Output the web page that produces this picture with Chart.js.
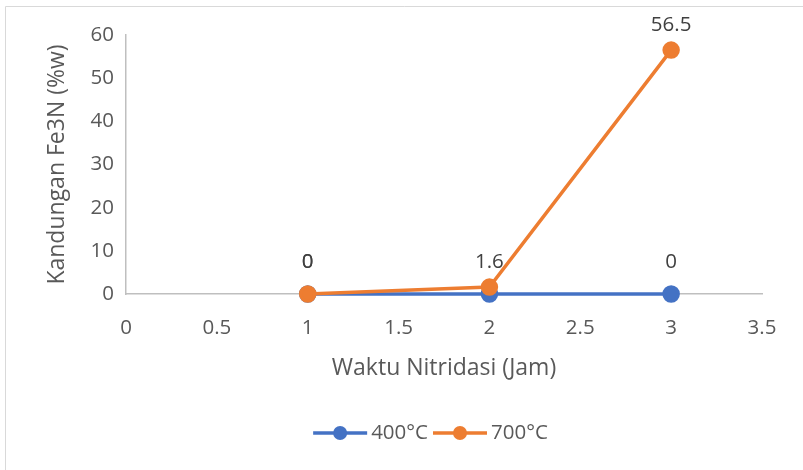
<!DOCTYPE html>
<html><head><meta charset="utf-8">
<script src="https://cdn.jsdelivr.net/npm/chart.js@4.4.1/dist/chart.umd.min.js"></script>
<style>html,body{margin:0;padding:0;background:#fff}#wrap{width:803px;height:470px;position:relative}</style>
</head><body><div id="wrap"><canvas id="c" width="803" height="470"></canvas></div>
<script>
const xValues = [1, 2, 3];
const series400 = [0, 0, 0];
const series700 = [0, 1.6, 56.5];
const labels400 = ['0', null, '0'];
const labels700 = ['0', '1.6', '56.5'];
const seriesNames = ['400°C', '700°C'];
const colors = ['#4472C4', '#ED7D31'];
const xTitle = 'Waktu Nitridasi (Jam)';
const yTitle = 'Kandungan Fe3N (%w)';
const textColor = '#595959';
const FONT = "'Open Sans', 'Noto Sans', sans-serif";

const labelPlugin = {
  id: 'valLabels',
  beforeDraw(chart){
    const ctx = chart.ctx;
    ctx.save();
    ctx.strokeStyle = '#D9D9D9'; ctx.lineWidth = 1;
    ctx.beginPath(); ctx.moveTo(5.5, 470); ctx.lineTo(5.5, 6.5); ctx.lineTo(803, 6.5); ctx.stroke();
    ctx.restore();
  },
  afterDatasetsDraw(chart){
    const ctx = chart.ctx;
    ctx.save();
    ctx.font = "20.5px " + FONT;
    ctx.fillStyle = '#404040';
    ctx.textAlign = 'center';
    ctx.textBaseline = 'middle';
    const sets = [[0, labels400, 32], [1, labels700, 25]];
    sets.forEach(([di, labs, off]) => {
      const meta = chart.getDatasetMeta(di);
      meta.data.forEach((pt, i) => {
        if (labs[i] == null) return;
        let o = off;
        if (di === 1 && i === 0) o = 32;
        ctx.fillText(labs[i], pt.x, pt.y - o);
      });
    });
    ctx.restore();
  },
  afterDraw(chart){
    const ctx = chart.ctx;
    ctx.save();
    ctx.font = "20.5px " + FONT;
    ctx.textBaseline = 'middle';
    ctx.textAlign = 'left';
    const iconW = 54, gap = 4, spacing = 5;
    const widths = seriesNames.map(n => iconW + gap + ctx.measureText(n).width);
    const total = widths.reduce((a,b)=>a+b,0) + spacing*(seriesNames.length-1);
    let x = 430.5 - total/2;
    const y = 433;
    seriesNames.forEach((n,i) => {
      ctx.strokeStyle = colors[i]; ctx.lineWidth = 3.5;
      ctx.beginPath(); ctx.moveTo(x, y); ctx.lineTo(x+iconW, y); ctx.stroke();
      ctx.fillStyle = colors[i];
      ctx.beginPath(); ctx.arc(x+iconW/2, y, 7, 0, Math.PI*2); ctx.fill();
      ctx.fillStyle = textColor;
      ctx.fillText(n, x+iconW+gap, y);
      x += widths[i] + spacing;
    });
    ctx.restore();
  }
};

new Chart(document.getElementById('c'), {
  type: 'line',
  data: {
    datasets: [
      { label: seriesNames[0], order: 1, clip: false, data: xValues.map((x,i)=>({x, y: series400[i]})), borderColor: colors[0], backgroundColor: colors[0], borderWidth: 3.5, pointRadius: 7, pointHoverRadius: 7, pointStyle: 'circle' },
      { label: seriesNames[1], order: 0, clip: false, data: xValues.map((x,i)=>({x, y: series700[i]})), borderColor: colors[1], backgroundColor: colors[1], borderWidth: 3.5, pointRadius: 7, pointHoverRadius: 7, pointStyle: 'circle' }
    ]
  },
  options: {
    responsive: false, animation: false, devicePixelRatio: 1,
    layout: { padding: { left: 40, right: 41, top: 35, bottom: 88 } },
    plugins: {
      tooltip: { enabled: false },
      legend: { display: false }
    },
    scales: {
      x: {
        type: 'linear', min: 0, max: 3.5,
        ticks: { stepSize: 0.5, color: textColor, font: { size: 20.5, family: FONT }, padding: 22, callback: v => String(Math.round(v*10)/10) },
        grid: { display: false, drawTicks: false },
        border: { color: '#BFBFBF', width: 1.5 },
        title: { display: true, text: xTitle, color: textColor, font: { size: 23, family: FONT }, padding: { top: 0, bottom: 0 } },
        afterFit(s){ s.height = 88; }
      },
      y: {
        min: 0, max: 60,
        ticks: { stepSize: 10, color: textColor, font: { size: 20.5, family: FONT }, padding: 12 },
        grid: { display: false, drawTicks: false },
        border: { color: '#BFBFBF', width: 1.5 },
        title: { display: true, text: yTitle, color: textColor, font: { size: 23, family: FONT } },
        afterFit(s){ s.width = 86; }
      }
    }
  },
  plugins: [labelPlugin]
});
</script></body></html>
